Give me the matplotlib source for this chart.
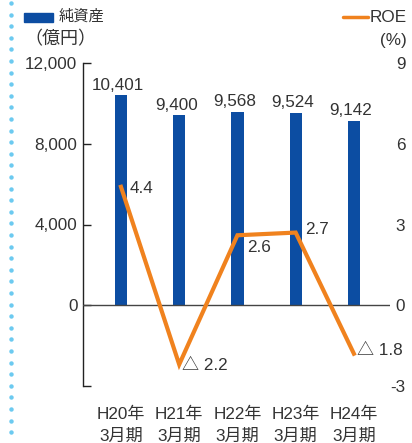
import matplotlib
matplotlib.use("Agg")
import matplotlib.pyplot as plt
from matplotlib.lines import Line2D
from matplotlib.patches import Rectangle

# Data
periods = ["H20年\n3月期", "H21年\n3月期", "H22年\n3月期", "H23年\n3月期", "H24年\n3月期"]
net_assets = [10401, 9400, 9568, 9524, 9142]          # 億円
roe = [4.4, -2.2, 2.6, 2.7, -1.8]                      # %
left_ticks = [-4000, 0, 4000, 8000, 12000]
left_ticklabels = ["", "0", "4,000", "8,000", "12,000"]
right_ticks = [-3, 0, 3, 6, 9]
right_ticklabels = ["-3", "0", "3", "6", "9"]

FONT = ["Liberation Sans", "Noto Sans CJK JP", "DejaVu Sans"]
plt.rcParams["font.family"] = FONT
TXT = "#333333"
BLUE = "#0c4da2"
ORANGE = "#f0821e"
FS = 12.3

W, H = 412, 443
fig = plt.figure(figsize=(W / 100, H / 100), dpi=100)

def fx(px):
    return px / W

def fy(py):
    return 1 - py / H

ax = fig.add_axes([fx(83), fy(386), fx(390) - fx(83), fy(63) - fy(386)])
x = list(range(len(periods)))
ax.bar(x, net_assets, width=0.21, color=BLUE, zorder=2)
ax.set_xlim(-0.652, 4.62)
ax.set_ylim(-4000, 12000)
ax.axhline(0, color="#444444", lw=1.0, zorder=3)

for s in ["top", "right", "bottom"]:
    ax.spines[s].set_visible(False)
ax.spines["left"].set_color("#222222")
ax.spines["left"].set_linewidth(1.0)
ax.set_yticks(left_ticks)
ax.set_yticklabels(left_ticklabels)
ax.tick_params(axis="y", direction="in", length=6, width=1.0, color="#222222",
               labelsize=FS, labelcolor=TXT, pad=4)
ax.set_xticks(x)
ax.set_xticklabels(periods, linespacing=1.55)
ax.tick_params(axis="x", length=0, labelsize=FS, labelcolor=TXT, pad=15)

for xi, v in zip(x, net_assets):
    ax.annotate(f"{v:,}", (xi, v), xytext=(-2, 2), textcoords="offset points",
                ha="center", va="bottom", fontsize=FS, color=TXT)

ax2 = ax.twinx()
ax2.set_ylim(-3, 9)
ax2.plot(x, roe, color=ORANGE, lw=3.0, solid_joinstyle="miter", zorder=4)
for s in ax2.spines.values():
    s.set_visible(False)
ax2.set_yticks(right_ticks)
ax2.set_yticklabels(right_ticklabels, ha="right")
ax2.tick_params(axis="y", length=0, labelsize=FS, labelcolor=TXT, pad=11)

def roe_label(v):
    return f"{v:.1f}" if v >= 0 else f"△ {abs(v):.1f}"

offsets = [(6, -1), (2, -1), (7, -9), (7, 2), (2, 2)]
for xi, v, (dx, dy) in zip(x, roe, offsets):
    ax2.annotate(roe_label(v), (xi, v), xytext=(dx, dy), textcoords="offset points",
                 ha="left", va="center", fontsize=FS, color=TXT, zorder=5)

# Legend and unit captions
fig.add_artist(Rectangle((fx(24), fy(22)), fx(53) - fx(24), fy(13) - fy(22),
                         transform=fig.transFigure, color=BLUE))
fig.text(fx(59), fy(17), "純資産", ha="left", va="center", fontsize=11, color=TXT)
fig.add_artist(Line2D([fx(343), fx(368)], [fy(17), fy(17)], transform=fig.transFigure,
                      color=ORANGE, lw=2.5, solid_capstyle="round"))
fig.text(fx(407), fy(17), "ROE", ha="right", va="center", fontsize=FS, color=TXT)
fig.text(fx(24), fy(40), "（億円）", ha="left", va="center", fontsize=13, color=TXT)
fig.text(fx(407), fy(40), "(%)", ha="right", va="center", fontsize=FS, color=TXT)

# Dotted decorative rule along the left edge
ys = []
py = 3.0
while py < H:
    ys.append(fy(py))
    py += 11.6
fig.add_artist(Line2D([fx(10.5)] * len(ys), ys, transform=fig.transFigure,
                      linestyle="none", marker="o", markersize=3.2,
                      markerfacecolor="#6ccaf0", markeredgewidth=0))

fig.savefig("out.png", dpi=100)
